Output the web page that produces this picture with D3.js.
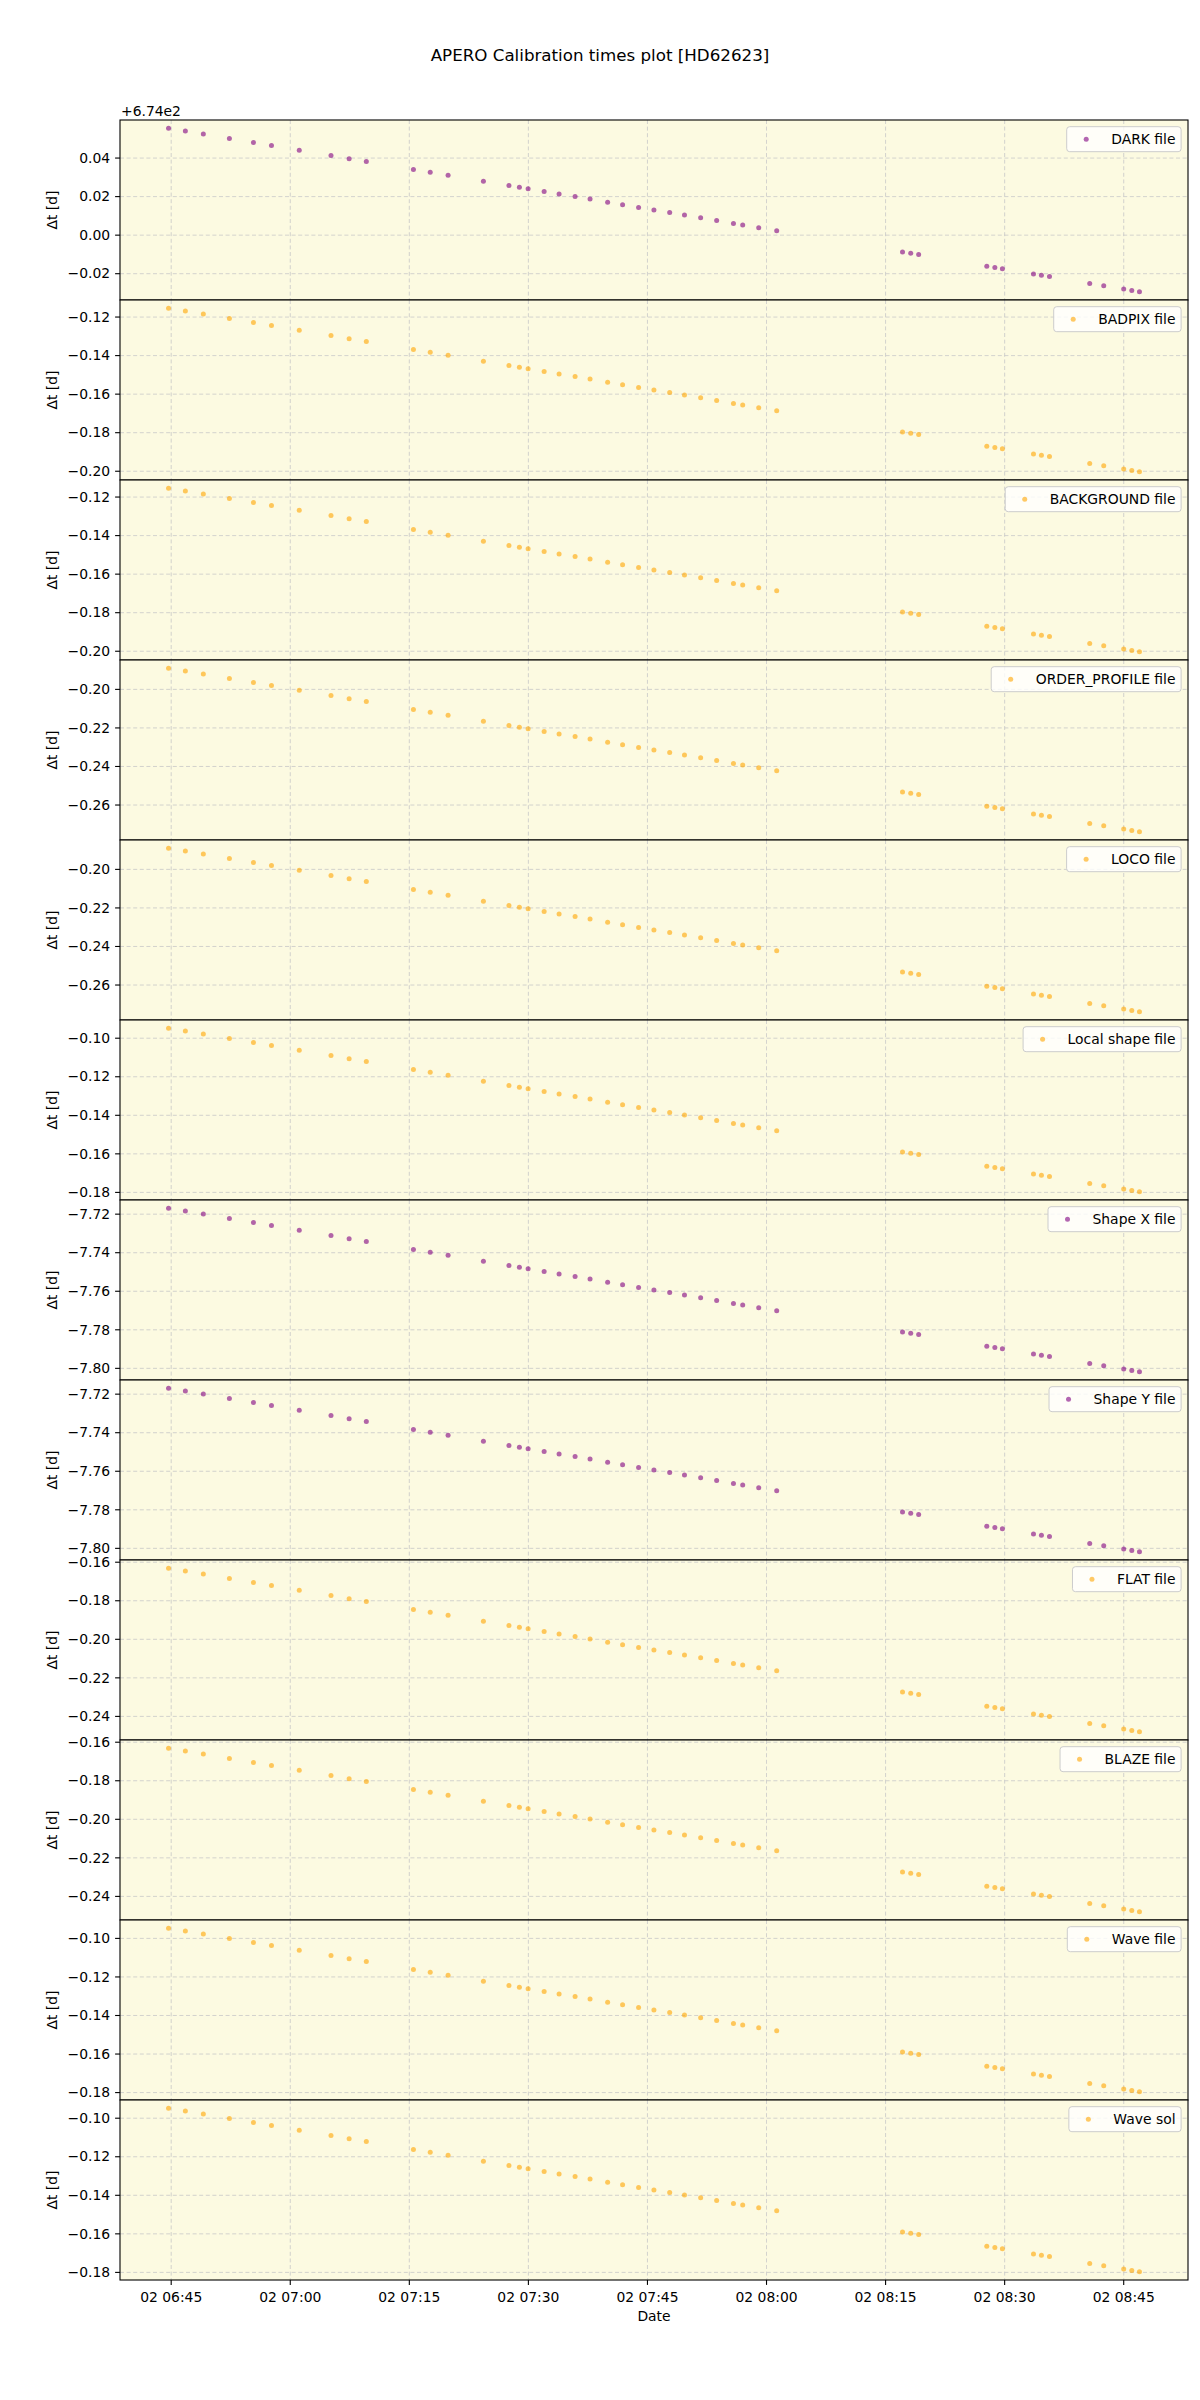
<!DOCTYPE html>
<html>
<head>
<meta charset="utf-8">
<script src="https://cdn.jsdelivr.net/npm/d3@7"></script>
<style>
  body { margin: 0; background: #ffffff; }
  text { font-family: "DejaVu Sans", sans-serif; fill: #000; }
</style>
</head>
<body>
<svg id="chart" width="1200" height="2400"></svg>
<script>
// ---------------- DATA ----------------
const titleText = "APERO Calibration times plot [HD62623]";
const yLabelText = "\u0394t [d]";
const xLabelText = "Date";

const obsTimes = [
  "2023-01-02 06:44:40","2023-01-02 06:46:47","2023-01-02 06:49:03","2023-01-02 06:52:20",
  "2023-01-02 06:55:22","2023-01-02 06:57:38","2023-01-02 07:01:08","2023-01-02 07:05:08",
  "2023-01-02 07:07:25","2023-01-02 07:09:35","2023-01-02 07:15:31","2023-01-02 07:17:38",
  "2023-01-02 07:19:53","2023-01-02 07:24:20","2023-01-02 07:27:33","2023-01-02 07:28:52",
  "2023-01-02 07:29:58","2023-01-02 07:31:59","2023-01-02 07:33:52","2023-01-02 07:35:53",
  "2023-01-02 07:37:46","2023-01-02 07:39:59","2023-01-02 07:41:52","2023-01-02 07:43:53",
  "2023-01-02 07:45:49","2023-01-02 07:47:48","2023-01-02 07:49:40","2023-01-02 07:51:42",
  "2023-01-02 07:53:43","2023-01-02 07:55:50","2023-01-02 07:57:00","2023-01-02 07:59:01",
  "2023-01-02 08:01:17","2023-01-02 08:17:08","2023-01-02 08:18:10","2023-01-02 08:19:10",
  "2023-01-02 08:27:45","2023-01-02 08:28:46","2023-01-02 08:29:43","2023-01-02 08:33:38",
  "2023-01-02 08:34:38","2023-01-02 08:35:39","2023-01-02 08:40:43","2023-01-02 08:42:29",
  "2023-01-02 08:45:00","2023-01-02 08:46:01","2023-01-02 08:46:59"
];

const panelLabels = ["DARK file","BADPIX file","BACKGROUND file","ORDER_PROFILE file","LOCO file",
  "Local shape file","Shape X file","Shape Y file","FLAT file","BLAZE file","Wave file","Wave sol"];
const panelColors = ["purple","orange","orange","orange","orange","orange",
  "purple","purple","orange","orange","orange","orange"];

const darkValues = [674.0555,674.0541,674.0525,674.0502,674.0481,674.0465,674.0441,674.0413,674.0397,674.0382,
  674.0341,674.0326,674.0311,674.0280,674.0258,674.0248,674.0241,674.0227,674.0214,674.0200,674.0187,
  674.0171,674.0158,674.0144,674.0131,674.0117,674.0104,674.0090,674.0076,674.0061,674.0053,674.0039,
  674.0023,673.9913,673.9906,673.9899,673.9839,673.9832,673.9826,673.9799,673.9792,673.9785,673.9749,
  673.9737,673.9720,673.9713,673.9706];
const badpixValues = [-0.1154,-0.1168,-0.1184,-0.1207,-0.1228,-0.1244,-0.1268,-0.1296,-0.1312,-0.1327,
  -0.1368,-0.1383,-0.1398,-0.1429,-0.1451,-0.1461,-0.1468,-0.1482,-0.1495,-0.1509,-0.1522,
  -0.1538,-0.1551,-0.1565,-0.1578,-0.1592,-0.1605,-0.1619,-0.1633,-0.1648,-0.1656,-0.1670,
  -0.1686,-0.1796,-0.1803,-0.1810,-0.1870,-0.1877,-0.1883,-0.1910,-0.1917,-0.1924,-0.1960,
  -0.1972,-0.1989,-0.1996,-0.2003];
const backgroundValues = [-0.1154,-0.1168,-0.1184,-0.1207,-0.1228,-0.1244,-0.1268,-0.1296,-0.1312,-0.1327,
  -0.1368,-0.1383,-0.1398,-0.1429,-0.1451,-0.1461,-0.1468,-0.1482,-0.1495,-0.1509,-0.1522,
  -0.1538,-0.1551,-0.1565,-0.1578,-0.1592,-0.1605,-0.1619,-0.1633,-0.1648,-0.1656,-0.1670,
  -0.1686,-0.1796,-0.1803,-0.1810,-0.1870,-0.1877,-0.1883,-0.1910,-0.1917,-0.1924,-0.1960,
  -0.1972,-0.1989,-0.1996,-0.2003];
const orderProfileValues = [-0.1890,-0.1904,-0.1920,-0.1943,-0.1964,-0.1980,-0.2004,-0.2032,-0.2048,-0.2063,
  -0.2104,-0.2119,-0.2134,-0.2165,-0.2187,-0.2197,-0.2204,-0.2218,-0.2231,-0.2245,-0.2258,
  -0.2274,-0.2287,-0.2301,-0.2314,-0.2328,-0.2341,-0.2355,-0.2369,-0.2384,-0.2392,-0.2406,
  -0.2422,-0.2532,-0.2539,-0.2546,-0.2606,-0.2613,-0.2619,-0.2646,-0.2653,-0.2660,-0.2696,
  -0.2708,-0.2725,-0.2732,-0.2739];
const locoValues = [-0.1890,-0.1904,-0.1920,-0.1943,-0.1964,-0.1980,-0.2004,-0.2032,-0.2048,-0.2063,
  -0.2104,-0.2119,-0.2134,-0.2165,-0.2187,-0.2197,-0.2204,-0.2218,-0.2231,-0.2245,-0.2258,
  -0.2274,-0.2287,-0.2301,-0.2314,-0.2328,-0.2341,-0.2355,-0.2369,-0.2384,-0.2392,-0.2406,
  -0.2422,-0.2532,-0.2539,-0.2546,-0.2606,-0.2613,-0.2619,-0.2646,-0.2653,-0.2660,-0.2696,
  -0.2708,-0.2725,-0.2732,-0.2739];
const localShapeValues = [-0.0948,-0.0962,-0.0978,-0.1001,-0.1022,-0.1038,-0.1062,-0.1090,-0.1106,-0.1121,
  -0.1162,-0.1177,-0.1192,-0.1223,-0.1245,-0.1255,-0.1262,-0.1276,-0.1289,-0.1303,-0.1316,
  -0.1332,-0.1345,-0.1359,-0.1372,-0.1386,-0.1399,-0.1413,-0.1427,-0.1442,-0.1450,-0.1464,
  -0.1480,-0.1590,-0.1597,-0.1604,-0.1664,-0.1671,-0.1677,-0.1704,-0.1711,-0.1718,-0.1754,
  -0.1766,-0.1783,-0.1790,-0.1797];
const shapeXValues = [-7.7169,-7.7183,-7.7199,-7.7222,-7.7243,-7.7259,-7.7283,-7.7311,-7.7327,-7.7342,
  -7.7383,-7.7398,-7.7413,-7.7444,-7.7466,-7.7476,-7.7483,-7.7497,-7.7510,-7.7524,-7.7537,
  -7.7553,-7.7566,-7.7580,-7.7593,-7.7607,-7.7620,-7.7634,-7.7648,-7.7663,-7.7671,-7.7685,
  -7.7701,-7.7811,-7.7818,-7.7825,-7.7885,-7.7892,-7.7898,-7.7925,-7.7932,-7.7939,-7.7975,
  -7.7987,-7.8004,-7.8011,-7.8018];
const shapeYValues = [-7.7169,-7.7183,-7.7199,-7.7222,-7.7243,-7.7259,-7.7283,-7.7311,-7.7327,-7.7342,
  -7.7383,-7.7398,-7.7413,-7.7444,-7.7466,-7.7476,-7.7483,-7.7497,-7.7510,-7.7524,-7.7537,
  -7.7553,-7.7566,-7.7580,-7.7593,-7.7607,-7.7620,-7.7634,-7.7648,-7.7663,-7.7671,-7.7685,
  -7.7701,-7.7811,-7.7818,-7.7825,-7.7885,-7.7892,-7.7898,-7.7925,-7.7932,-7.7939,-7.7975,
  -7.7987,-7.8004,-7.8011,-7.8018];
const flatValues = [-0.1631,-0.1645,-0.1661,-0.1684,-0.1705,-0.1721,-0.1745,-0.1773,-0.1789,-0.1804,
  -0.1845,-0.1860,-0.1875,-0.1906,-0.1928,-0.1938,-0.1945,-0.1959,-0.1972,-0.1986,-0.1999,
  -0.2015,-0.2028,-0.2042,-0.2055,-0.2069,-0.2082,-0.2096,-0.2110,-0.2125,-0.2133,-0.2147,
  -0.2163,-0.2273,-0.2280,-0.2287,-0.2347,-0.2354,-0.2360,-0.2387,-0.2394,-0.2401,-0.2437,
  -0.2449,-0.2466,-0.2473,-0.2480];
const blazeValues = [-0.1631,-0.1645,-0.1661,-0.1684,-0.1705,-0.1721,-0.1745,-0.1773,-0.1789,-0.1804,
  -0.1845,-0.1860,-0.1875,-0.1906,-0.1928,-0.1938,-0.1945,-0.1959,-0.1972,-0.1986,-0.1999,
  -0.2015,-0.2028,-0.2042,-0.2055,-0.2069,-0.2082,-0.2096,-0.2110,-0.2125,-0.2133,-0.2147,
  -0.2163,-0.2273,-0.2280,-0.2287,-0.2347,-0.2354,-0.2360,-0.2387,-0.2394,-0.2401,-0.2437,
  -0.2449,-0.2466,-0.2473,-0.2480];
const waveFileValues = [-0.0947,-0.0961,-0.0977,-0.1000,-0.1021,-0.1037,-0.1061,-0.1089,-0.1105,-0.1120,
  -0.1161,-0.1176,-0.1191,-0.1222,-0.1244,-0.1254,-0.1261,-0.1275,-0.1288,-0.1302,-0.1315,
  -0.1331,-0.1344,-0.1358,-0.1371,-0.1385,-0.1398,-0.1412,-0.1426,-0.1441,-0.1449,-0.1463,
  -0.1479,-0.1589,-0.1596,-0.1603,-0.1663,-0.1670,-0.1676,-0.1703,-0.1710,-0.1717,-0.1753,
  -0.1765,-0.1782,-0.1789,-0.1796];
const waveSolValues = [-0.0948,-0.0962,-0.0978,-0.1001,-0.1022,-0.1038,-0.1062,-0.1090,-0.1106,-0.1121,
  -0.1162,-0.1177,-0.1192,-0.1223,-0.1245,-0.1255,-0.1262,-0.1276,-0.1289,-0.1303,-0.1316,
  -0.1332,-0.1345,-0.1359,-0.1372,-0.1386,-0.1399,-0.1413,-0.1427,-0.1442,-0.1450,-0.1464,
  -0.1480,-0.1590,-0.1597,-0.1604,-0.1664,-0.1671,-0.1677,-0.1704,-0.1711,-0.1718,-0.1754,
  -0.1766,-0.1783,-0.1790,-0.1797];

const panelValues = [darkValues, badpixValues, backgroundValues, orderProfileValues, locoValues,
  localShapeValues, shapeXValues, shapeYValues, flatValues, blazeValues, waveFileValues, waveSolValues];
// y-offset shown as matplotlib offset text (only first panel)
const panelOffsets = [674, 0, 0, 0, 0, 0, 0, 0, 0, 0, 0, 0];
const offsetLabels = ["+6.74e2", "", "", "", "", "", "", "", "", "", "", ""];

// ---------------- LAYOUT ----------------
const W = 1200, H = 2400;
const plotLeft = 120, plotRight = 1188, plotTop = 120, plotBottom = 2280;
const nP = panelLabels.length;
const ph = (plotBottom - plotTop) / nP;
const fs = 13.9;
const bgColor = "#fcfae1";
const gridColor = "#c8c8c8";

const svg = d3.select("#chart");
svg.append("rect").attr("width", W).attr("height", H).attr("fill", "#fff");

const parse = d3.timeParse("%Y-%m-%d %H:%M:%S");
const dates = obsTimes.map(parse);

const [t0, t1] = d3.extent(dates);
const tpad = (t1 - t0) * 0.05;
const x = d3.scaleTime()
  .domain([new Date(+t0 - tpad), new Date(+t1 + tpad)])
  .range([plotLeft, plotRight]);
const xTicks = x.ticks(d3.timeMinute.every(15));
const xFmt = d3.timeFormat("%d %H:%M");

// title (figure suptitle, centred on the figure)
svg.append("text")
  .attr("x", W / 2).attr("y", 61)
  .attr("text-anchor", "middle")
  .attr("font-size", 16.7)
  .text(titleText);

panelLabels.forEach((label, i) => {
  const pTop = plotTop + i * ph, pBot = pTop + ph;
  const vals = panelValues[i];
  const [v0, v1] = d3.extent(vals);
  const vpad = (v1 - v0) * 0.05;
  const y = d3.scaleLinear().domain([v0 - vpad, v1 + vpad]).range([pBot, pTop]);
  const yTicks = y.ticks(5);
  const off = panelOffsets[i];
  const fmt = v => {
    const r = Math.round((v - off) * 100) / 100 + 0;
    return d3.format(".2f")(r);
  };

  const g = svg.append("g");
  g.append("rect").attr("x", plotLeft).attr("y", pTop)
    .attr("width", plotRight - plotLeft).attr("height", ph).attr("fill", bgColor);

  // grid
  g.selectAll(".gx").data(xTicks).join("line")
    .attr("x1", d => x(d)).attr("x2", d => x(d))
    .attr("y1", pTop).attr("y2", pBot)
    .attr("stroke", gridColor).attr("stroke-width", 0.8)
    .attr("stroke-dasharray", "4,2.6");
  g.selectAll(".gy").data(yTicks).join("line")
    .attr("x1", plotLeft).attr("x2", plotRight)
    .attr("y1", d => y(d)).attr("y2", d => y(d))
    .attr("stroke", gridColor).attr("stroke-width", 0.8)
    .attr("stroke-dasharray", "4,2.6");

  // points
  g.selectAll("circle.pt").data(vals).join("circle")
    .attr("class", "pt")
    .attr("cx", (d, k) => x(dates[k]))
    .attr("cy", d => y(d))
    .attr("r", 2.5)
    .attr("fill", panelColors[i])
    .attr("fill-opacity", 0.6);

  // y ticks
  yTicks.forEach(t => {
    g.append("line").attr("x1", plotLeft - 4.9).attr("x2", plotLeft)
      .attr("y1", y(t)).attr("y2", y(t))
      .attr("stroke", "#000").attr("stroke-width", 1.1);
    g.append("text").attr("x", plotLeft - 9.8).attr("y", y(t))
      .attr("dy", "0.34em").attr("text-anchor", "end")
      .attr("font-size", fs).text(fmt(t));
  });

  // y label
  g.append("text")
    .attr("transform", `translate(57,${(pTop + pBot) / 2}) rotate(-90)`)
    .attr("text-anchor", "middle").attr("font-size", fs)
    .text(yLabelText);

  // offset text
  if (offsetLabels[i]) {
    g.append("text").attr("x", plotLeft + 1).attr("y", pTop - 4)
      .attr("font-size", fs).text(offsetLabels[i]);
  }

  // legend
  const lg = g.append("g");
  const txt = lg.append("text").attr("font-size", fs).text(label);
  const tw = txt.node().getComputedTextLength();
  const bw = 5.6 + 27.8 + 11.1 + tw + 5.6;
  const bh = 25;
  const bx = plotRight - 6.9 - bw, by = pTop + 6.7;
  lg.insert("rect", "text").attr("x", bx).attr("y", by)
    .attr("width", bw).attr("height", bh).attr("rx", 3)
    .attr("fill", "#fff").attr("fill-opacity", 0.8)
    .attr("stroke", "#cccccc").attr("stroke-width", 1);
  lg.insert("circle", "text").attr("cx", bx + 5.6 + 13.9).attr("cy", by + bh / 2)
    .attr("r", 2.5).attr("fill", panelColors[i]).attr("fill-opacity", 0.6);
  txt.attr("x", bx + 5.6 + 27.8 + 11.1).attr("y", by + bh / 2 + 5);

  // frame
  g.append("rect").attr("x", plotLeft).attr("y", pTop)
    .attr("width", plotRight - plotLeft).attr("height", ph)
    .attr("fill", "none").attr("stroke", "#000").attr("stroke-width", 1.1);
});

// x axis at bottom
xTicks.forEach(t => {
  svg.append("line").attr("x1", x(t)).attr("x2", x(t))
    .attr("y1", plotBottom).attr("y2", plotBottom + 4.9)
    .attr("stroke", "#000").attr("stroke-width", 1.1);
  svg.append("text").attr("x", x(t)).attr("y", plotBottom + 21.5)
    .attr("text-anchor", "middle").attr("font-size", fs).text(xFmt(t));
});
svg.append("text").attr("x", (plotLeft + plotRight) / 2).attr("y", plotBottom + 41)
  .attr("text-anchor", "middle").attr("font-size", fs).text(xLabelText);
</script>
</body>
</html>
